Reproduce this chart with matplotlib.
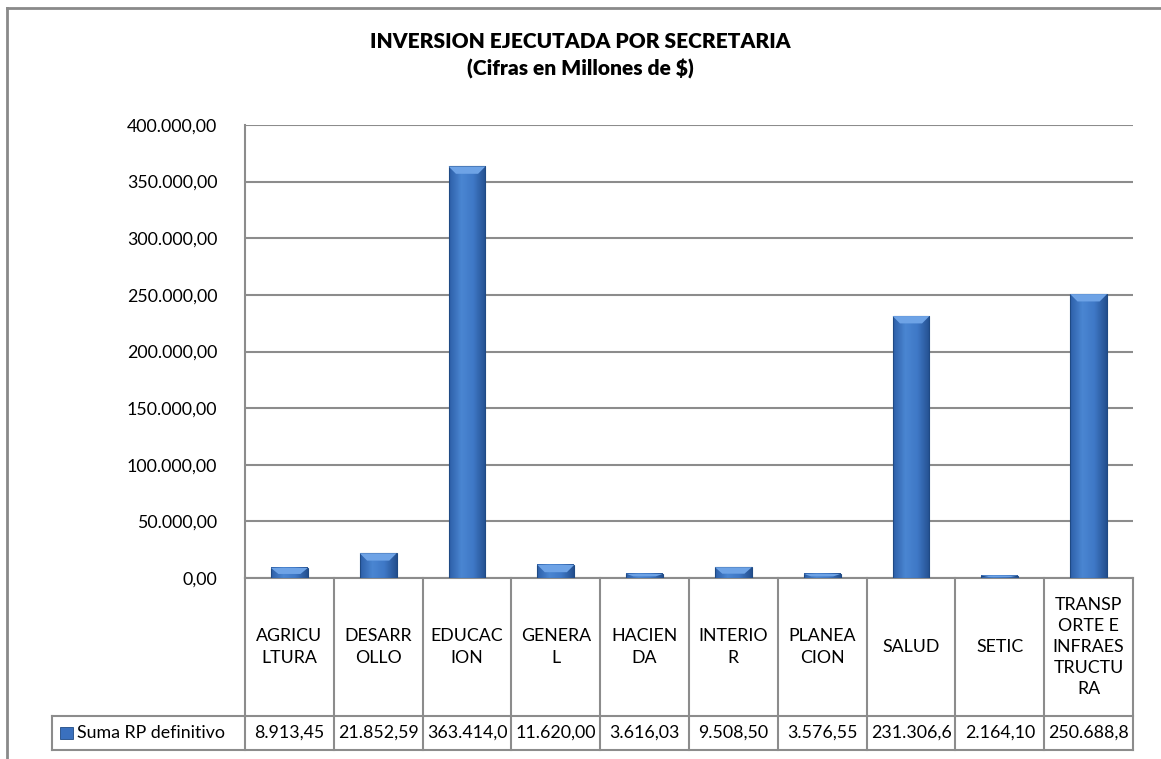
import numpy as np
import matplotlib
matplotlib.use("Agg")
import matplotlib.pyplot as plt
from matplotlib.colors import LinearSegmentedColormap
from matplotlib.patches import Polygon
from matplotlib.transforms import blended_transform_factory

# datos
categorias = ["AGRICU\nLTURA", "DESARR\nOLLO", "EDUCAC\nION", "GENERA\nL", "HACIEN\nDA",
              "INTERIO\nR", "PLANEA\nCION", "SALUD", "SETIC",
              "TRANSP\nORTE E\nINFRAES\nTRUCTU\nRA"]
valores = [8913.45, 21852.59, 363414.00, 11620.00, 3616.03,
           9508.50, 3576.55, 231306.60, 2164.10, 250688.80]
serie = "Suma RP definitivo"
yticks = [0, 50000, 100000, 150000, 200000, 250000, 300000, 350000, 400000]


def fmt_es(v, dec=2):
    s = f"{v:,.{dec}f}"
    return s.replace(",", "X").replace(".", ",").replace("X", ".")


plt.rcParams['font.family'] = ['Lato', 'DejaVu Sans']
GRIS = '#8c8c8c'

fig = plt.figure(figsize=(11.61, 7.59), dpi=100)
W, H = 1161.0, 759.0
ax = fig.add_axes([245 / W, 1 - 578 / H, 888 / W, 453 / H])

n = len(valores)
x = np.arange(n)
ancho = 0.415

# barras con degradado
cmap = LinearSegmentedColormap.from_list("barra", ["#2d5fa8", "#4a86d2", "#3f78c6", "#24508f"])
grad = np.linspace(0, 1, 64).reshape(1, -1)
for xi, v in zip(x, valores):
    ax.imshow(grad, cmap=cmap, aspect='auto', interpolation='bilinear',
              extent=[xi - ancho / 2, xi + ancho / 2, 0, v], zorder=3)
    ax.add_patch(plt.Rectangle((xi - ancho / 2, 0), ancho, v, fill=False,
                               edgecolor='#1f4a84', lw=0.8, zorder=4))
    # bisel superior
    bh = min(6500, v * 0.6)
    bw = ancho * 0.2
    ax.add_patch(Polygon([[xi - ancho / 2, v], [xi + ancho / 2, v],
                          [xi + ancho / 2 - bw, v - bh], [xi - ancho / 2 + bw, v - bh]],
                         closed=True, facecolor='#6ea3e6', edgecolor='none', zorder=4))

ax.set_xlim(-0.5, n - 0.5)
ax.set_ylim(0, 400000)
ax.set_yticks(yticks)
ax.set_yticklabels([fmt_es(t) for t in yticks], fontsize=12.8)
ax.tick_params(axis='y', length=0, pad=20)
ax.set_xticks([])
ax.grid(axis='y', color=GRIS, lw=1.5, zorder=0)
for s in ['top', 'right', 'bottom']:
    ax.spines[s].set_visible(False)
ax.spines['left'].set_color(GRIS)
ax.spines['left'].set_linewidth(1.5)

# tabla de datos
y_cat = -138 / 453
y_dat = -172 / 453
x_ley = -193 / 888 * n - 0.5
bt = blended_transform_factory(ax.transData, ax.transAxes)
kw = dict(color=GRIS, lw=1.5, transform=bt, clip_on=False)
ax.plot([-0.5, n - 0.5], [0, 0], **kw)
ax.plot([-0.5, n - 0.5], [y_cat, y_cat], **kw)
ax.plot([x_ley, n - 0.5], [y_dat, y_dat], **kw)
ax.plot([x_ley, -0.5], [y_cat, y_cat], **kw)
ax.plot([x_ley, x_ley], [y_cat, y_dat], **kw)
for b in np.arange(n + 1) - 0.5:
    ax.plot([b, b], [0, y_dat], **kw)

for xi, c, v in zip(x, categorias, valores):
    ax.text(xi, y_cat / 2, c, transform=bt, ha='center', va='center',
            fontsize=12.8, linespacing=1.4)
    ax.text(xi, (y_cat + y_dat) / 2, fmt_es(v)[:9], transform=bt, ha='center',
            va='center', fontsize=12.8)

# leyenda en la tabla
ax.add_patch(plt.Rectangle((x_ley + 0.09, (y_cat + y_dat) / 2 - 0.0135), 0.145, 0.027,
                           transform=bt, clip_on=False, facecolor='#3a70be',
                           edgecolor='#1f4a84', lw=0.6))
ax.text(x_ley + 0.28, (y_cat + y_dat) / 2, serie, transform=bt, ha='left',
        va='center', fontsize=12.8)

# titulo
fig.text(580 / W, 1 - 41 / H, "INVERSION EJECUTADA POR SECRETARIA", ha='center',
         va='center', fontsize=15, fontweight='heavy')
fig.text(580 / W, 1 - 69 / H, "(Cifras en Millones de $)", ha='center',
         va='center', fontsize=15, fontweight='heavy')

# borde del grafico
fig.add_artist(plt.Line2D([7 / W, 7 / W], [0, 1 - 8 / H], color='#8a8a8a', lw=2))
fig.add_artist(plt.Line2D([7 / W, 1], [1 - 8 / H, 1 - 8 / H], color='#8a8a8a', lw=2))

fig.savefig("out.png", dpi=100)
